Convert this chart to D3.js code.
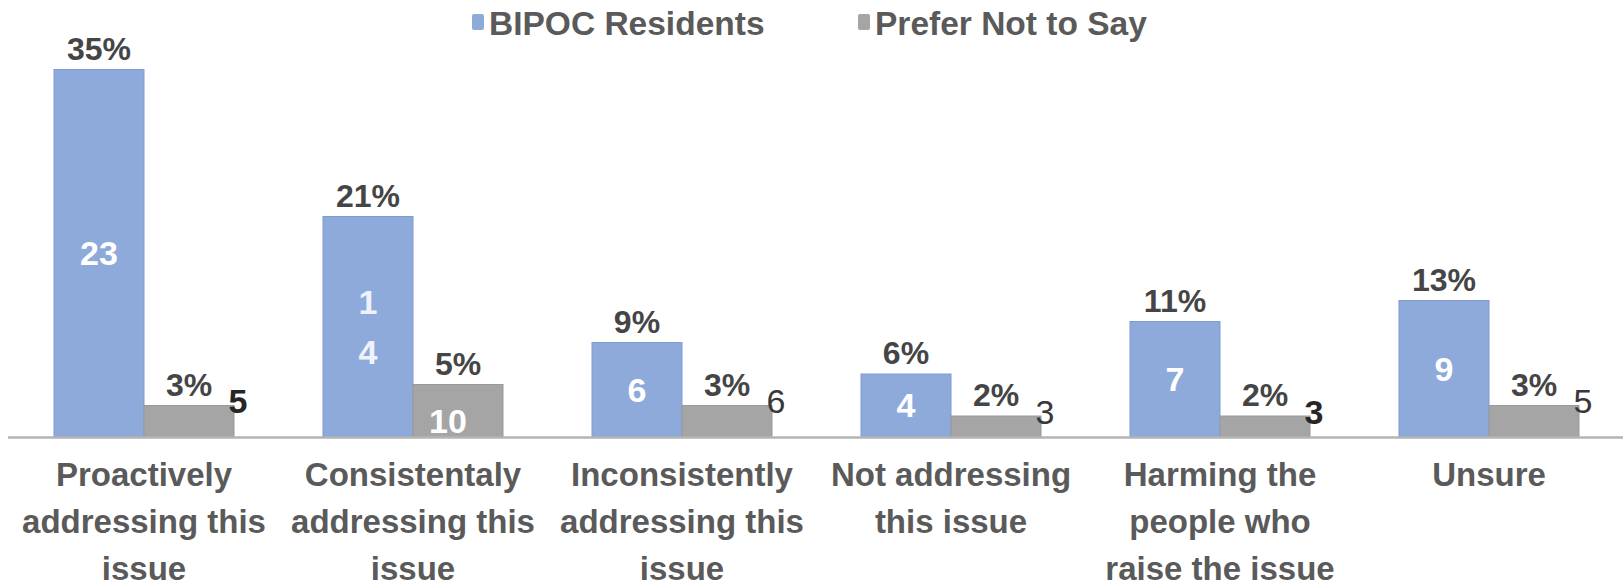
<!DOCTYPE html>
<html>
<head>
<meta charset="utf-8">
<script src="https://cdn.jsdelivr.net/npm/d3@7"></script>
<style>
  html, body { margin: 0; padding: 0; background: #fff; }
  svg { display: block; font-family: "Liberation Sans", Arial, sans-serif; }
</style>
</head>
<body>
<svg id="chart" width="1623" height="587"></svg>
<script>
// Survey responses: how the organisation is handling the issue
const categories = [
  "Proactively addressing this issue",
  "Consistentaly addressing this issue",
  "Inconsistently addressing this issue",
  "Not addressing this issue",
  "Harming the people who raise the issue",
  "Unsure"
];
const seriesNames = ["BIPOC Residents", "Prefer Not to Say"];

// Share of respondents (%) and respondent counts per answer
const bipocPct = [35, 21, 9, 6, 11, 13];
const bipocCount = [23, 14, 6, 4, 7, 9];
const preferPct = [3, 5, 3, 2, 2, 3];
const preferCount = [5, 10, 6, 3, 3, 5];

// How each "Prefer Not to Say" count is set: inside the bar, or beside it
const preferCountLook = ["strong", "inside", "plain", "plain", "strong", "plain"];

const colors = { "BIPOC Residents": "#8eaadb", "Prefer Not to Say": "#a5a5a5" };
const strokes = { "BIPOC Residents": "#7f9bd0", "Prefer Not to Say": "#999999" };

const svg = d3.select("#chart");
const baseY = 437;

const x0 = d3.scaleBand().domain(categories).range([9.5, 1623.5]).paddingInner(0).paddingOuter(0);
const x1 = d3.scaleBand().domain(seriesNames).range([0, x0.bandwidth()]).paddingInner(0).paddingOuter(0.4944);
const y = d3.scaleLinear().domain([0, 40]).range([baseY, 17]);

const rows = categories.map((c, i) => ({
  cat: c, i,
  vals: [
    { s: seriesNames[0], pct: bipocPct[i], n: bipocCount[i] },
    { s: seriesNames[1], pct: preferPct[i], n: preferCount[i] }
  ]
}));

// Bars
const groups = svg.append("g").selectAll("g").data(rows).join("g")
  .attr("transform", d => `translate(${x0(d.cat)},0)`);

groups.selectAll("rect").data(d => d.vals).join("rect")
  .attr("x", d => x1(d.s))
  .attr("y", d => y(d.pct))
  .attr("width", x1.bandwidth())
  .attr("height", d => baseY - y(d.pct))
  .attr("fill", d => colors[d.s])
  .attr("stroke", d => strokes[d.s])
  .attr("stroke-width", 1);

// Axis baseline
svg.append("line")
  .attr("x1", 8).attr("x2", 1623)
  .attr("y1", baseY + 0.5).attr("y2", baseY + 0.5)
  .attr("stroke", "#b4b4b4").attr("stroke-width", 2.5);

// Percentage labels above each bar
groups.selectAll("text.pct").data(d => d.vals).join("text")
  .attr("class", "pct")
  .attr("x", d => x1(d.s) + x1.bandwidth() / 2)
  .attr("y", d => y(d.pct) - 10)
  .attr("text-anchor", "middle")
  .attr("font-size", 32)
  .attr("font-weight", "bold")
  .attr("fill", "#454545")
  .text(d => d.pct + "%");

// Counts inside the BIPOC bars (the 14 breaks onto two lines in its narrow box)
groups.each(function (d) {
  const g = d3.select(this);
  const v = d.vals[0];
  const cx = x1(v.s) + x1.bandwidth() / 2;
  const cy = (y(v.pct) + baseY) / 2;
  const label = String(v.n);
  const lines = (label.length > 1 && d.i === 1) ? label.split("") : [label];
  const t = g.append("text")
    .attr("text-anchor", "middle")
    .attr("font-size", 34)
    .attr("font-weight", "bold")
    .attr("fill", d.i === 1 ? "#eef3fb" : "#ffffff");
  lines.forEach((ln, k) => {
    t.append("tspan")
      .attr("x", cx)
      .attr("y", cy + (k - (lines.length - 1) / 2) * 50)
      .attr("dy", "0.35em")
      .text(ln);
  });

  // Prefer-not-to-say count
  const p = d.vals[1];
  const look = preferCountLook[d.i];
  const px = x1(p.s);
  if (look === "inside") {
    g.append("text")
      .attr("x", px + x1.bandwidth() / 2 - 10)
      .attr("y", (y(p.pct) + baseY) / 2 + 10)
      .attr("dy", "0.35em")
      .attr("text-anchor", "middle")
      .attr("font-size", 34)
      .attr("font-weight", "bold")
      .attr("fill", "#ffffff")
      .text(p.n);
  } else {
    g.append("text")
      .attr("x", px + x1.bandwidth() + 4)
      .attr("y", y(p.pct) - 4)
      .attr("dy", "0.35em")
      .attr("text-anchor", "middle")
      .attr("font-size", 34)
      .attr("font-weight", look === "strong" ? "bold" : "normal")
      .attr("fill", look === "strong" ? "#262626" : "#383838")
      .text(p.n);
  }
});

// Category labels, wrapped to the band width
const wrapWidth = 255;
groups.append("text")
  .attr("text-anchor", "middle")
  .attr("font-size", 33)
  .attr("font-weight", "bold")
  .attr("fill", "#5a5a5a")
  .each(function (d) {
    const t = d3.select(this);
    const cx = x0.bandwidth() / 2;
    const words = d.cat.split(" ");
    const lines = [];
    let cur = [];
    const probe = t.append("tspan");
    words.forEach(w => {
      const trial = cur.concat(w).join(" ");
      probe.text(trial);
      if (cur.length && probe.node().getComputedTextLength() > wrapWidth) {
        lines.push(cur.join(" "));
        cur = [w];
      } else {
        cur.push(w);
      }
    });
    if (cur.length) lines.push(cur.join(" "));
    probe.remove();
    lines.forEach((ln, k) => {
      t.append("tspan").attr("x", cx).attr("y", 486 + k * 47).text(ln);
    });
  });

// Legend
const legendX = [472, 858];
const legend = svg.append("g").selectAll("g").data(seriesNames).join("g")
  .attr("transform", (d, i) => `translate(${legendX[i]},0)`);
legend.append("rect")
  .attr("x", 0).attr("y", 14).attr("width", 12).attr("height", 16).attr("rx", 2)
  .attr("fill", d => colors[d]);
legend.append("text")
  .attr("x", 17).attr("y", 35)
  .attr("font-size", 33.5)
  .attr("font-weight", "bold")
  .attr("fill", "#5a5a5a")
  .text(d => d);
</script>
</body>
</html>
